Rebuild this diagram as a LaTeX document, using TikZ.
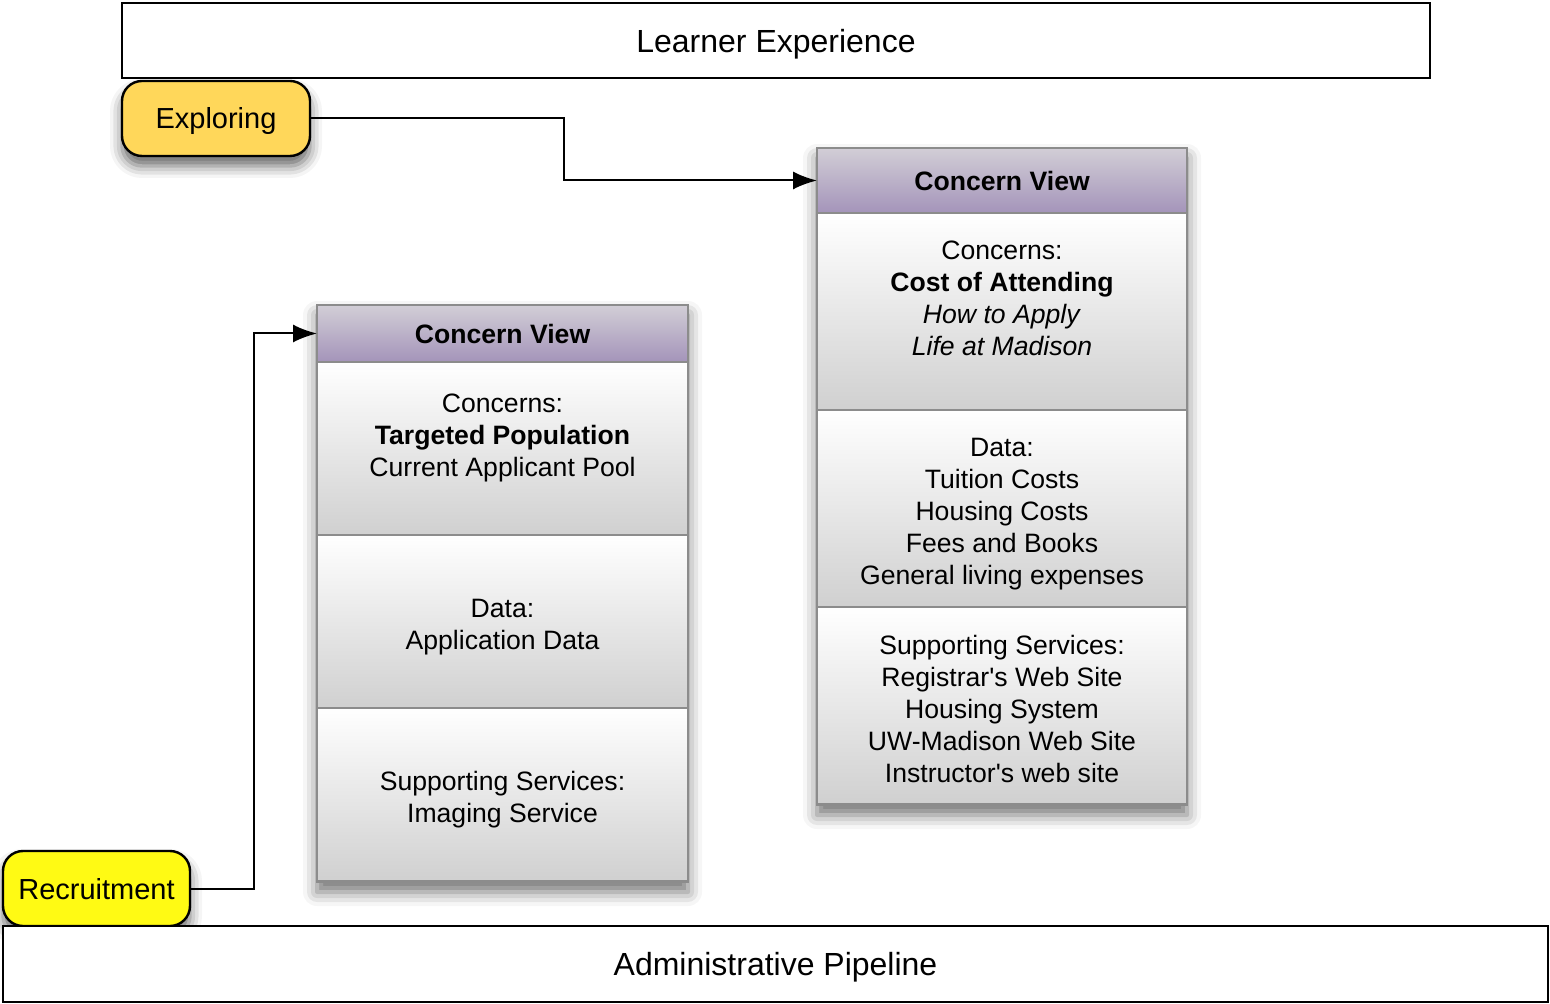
\documentclass[tikz,border=0pt]{standalone}
\usepackage{fontspec}
\setmainfont{Liberation Sans}
\usetikzlibrary{positioning,calc,arrows.meta,shadows.blur}

\definecolor{explorecol}{RGB}{255,215,90}
\definecolor{recruitcol}{RGB}{255,250,20}
\definecolor{headtop}{RGB}{210,206,214}
\definecolor{headbot}{RGB}{164,148,186}
\definecolor{secbot}{RGB}{208,208,208}
\definecolor{frameline}{RGB}{140,140,140}

\tikzset{
	lane/.style={draw=black, line width=1pt, fill=white, minimum height=37.5pt, inner sep=0pt, text depth=0pt, font=\fontsize{16}{19}\selectfont},
	phase/.style={draw=black, line width=1.2pt, rounded corners=10pt, minimum width=94pt, minimum height=37.5pt, inner sep=0pt, text depth=0pt, font=\fontsize{14.5}{17}\selectfont,
		blur shadow={shadow xshift=0pt, shadow yshift=-5pt, shadow blur radius=6pt, shadow opacity=60}},
	cvframe/.style={draw=frameline, fill=white, line width=1.2pt, inner sep=0pt, outer sep=0pt,
		blur shadow={shadow xshift=0pt, shadow yshift=-5pt, shadow blur radius=7pt, shadow opacity=55}},
	cvhead/.style={draw=frameline, line width=1.2pt, top color=headtop, bottom color=headbot, inner sep=0pt, outer sep=0pt, font=\bfseries\fontsize{13.3}{16}\selectfont},
	cvsec/.style={draw=frameline, line width=1.2pt, top color=white, bottom color=secbot, inner sep=0pt, outer sep=0pt},
	cvtext/.style={align=center, inner sep=0pt, font=\fontsize{13.3}{16}\selectfont},
	conn/.style={draw=black, line width=1pt, -{Latex[length=12pt,width=9pt]}}
}

\begin{document}
\begin{tikzpicture}[x=0.5pt, y=-0.5pt]
	\useasboundingbox (0,0) rectangle (1550,1004);
	
	\node[lane, minimum width=654pt] (learner) at (776,40.5) {Learner Experience};
	
	\node[phase, fill=explorecol] (exploring) at (216,118.5) {Exploring};
	\node[phase, fill=recruitcol, minimum width=93.5pt] (recruit) at (96.5,888.5) {Recruitment};
	
	\node[lane, minimum width=772.5pt, minimum height=38pt] (admin) at (775.5,964) {Administrative Pipeline};
	
	% left concern view
	\node[cvframe, minimum width=185.5pt, minimum height=288.5pt] (cvL) at (502.5,593.5) {};
	\node[cvhead, minimum width=185.5pt, minimum height=28.5pt, anchor=north] (cvLhead) at (cvL.north) {Concern View};
	\node[cvsec, minimum width=185.5pt, minimum height=86.5pt, below=0pt of cvLhead] (cvLconc) {};
	\node[cvsec, minimum width=185.5pt, minimum height=86.5pt, below=0pt of cvLconc] (cvLdata) {};
	\node[cvsec, minimum width=185.5pt, minimum height=86.5pt, below=0pt of cvLdata] (cvLserv) {};
	
	\node[cvtext] (cvLconcTxt) at ([yshift=5.5pt]cvLconc.center) {Concerns:\\\textbf{Targeted Population}\\Current Applicant Pool};
	\node[cvtext] (cvLdataTxt) at ([yshift=-3pt]cvLdata.center) {Data:\\Application Data};
	\node[cvtext] (cvLservTxt) at ([yshift=-2.5pt]cvLserv.center) {Supporting Services:\\Imaging Service};
	
	% right concern view
	\node[cvframe, minimum width=185pt, minimum height=328.5pt] (cvR) at (1002,476.5) {};
	\node[cvhead, minimum width=185pt, minimum height=32.5pt, anchor=north] (cvRhead) at (cvR.north) {Concern View};
	\node[cvsec, minimum width=185pt, minimum height=98.5pt, below=0pt of cvRhead] (cvRconc) {};
	\node[cvsec, minimum width=185pt, minimum height=98.5pt, below=0pt of cvRconc] (cvRdata) {};
	\node[cvsec, minimum width=185pt, minimum height=98.5pt, below=0pt of cvRdata] (cvRserv) {};
	
	\node[cvtext] (cvRconcTxt) at ([yshift=6.5pt]cvRconc.center) {Concerns:\\\textbf{Cost of Attending}\\\textit{How to Apply}\\\textit{Life at Madison}};
	\node[cvtext] (cvRdataTxt) at ([yshift=-3pt]cvRdata.center) {Data:\\Tuition Costs\\Housing Costs\\Fees and Books\\General living expenses};
	\node[cvtext] (cvRservTxt) at ([yshift=-1.5pt]cvRserv.center) {Supporting Services:\\Registrar\textquotesingle s Web Site\\Housing System\\UW-Madison Web Site\\Instructor\textquotesingle s web site};
	
	\draw[conn] (exploring.east) -| ($(exploring.east)!0.5!(cvRhead.west)$) |- (cvRhead.west);
	\draw[conn] (recruit.east) -| ($(recruit.east)!0.5!(cvLhead.west)$) |- (cvLhead.west);
\end{tikzpicture}
\end{document}
